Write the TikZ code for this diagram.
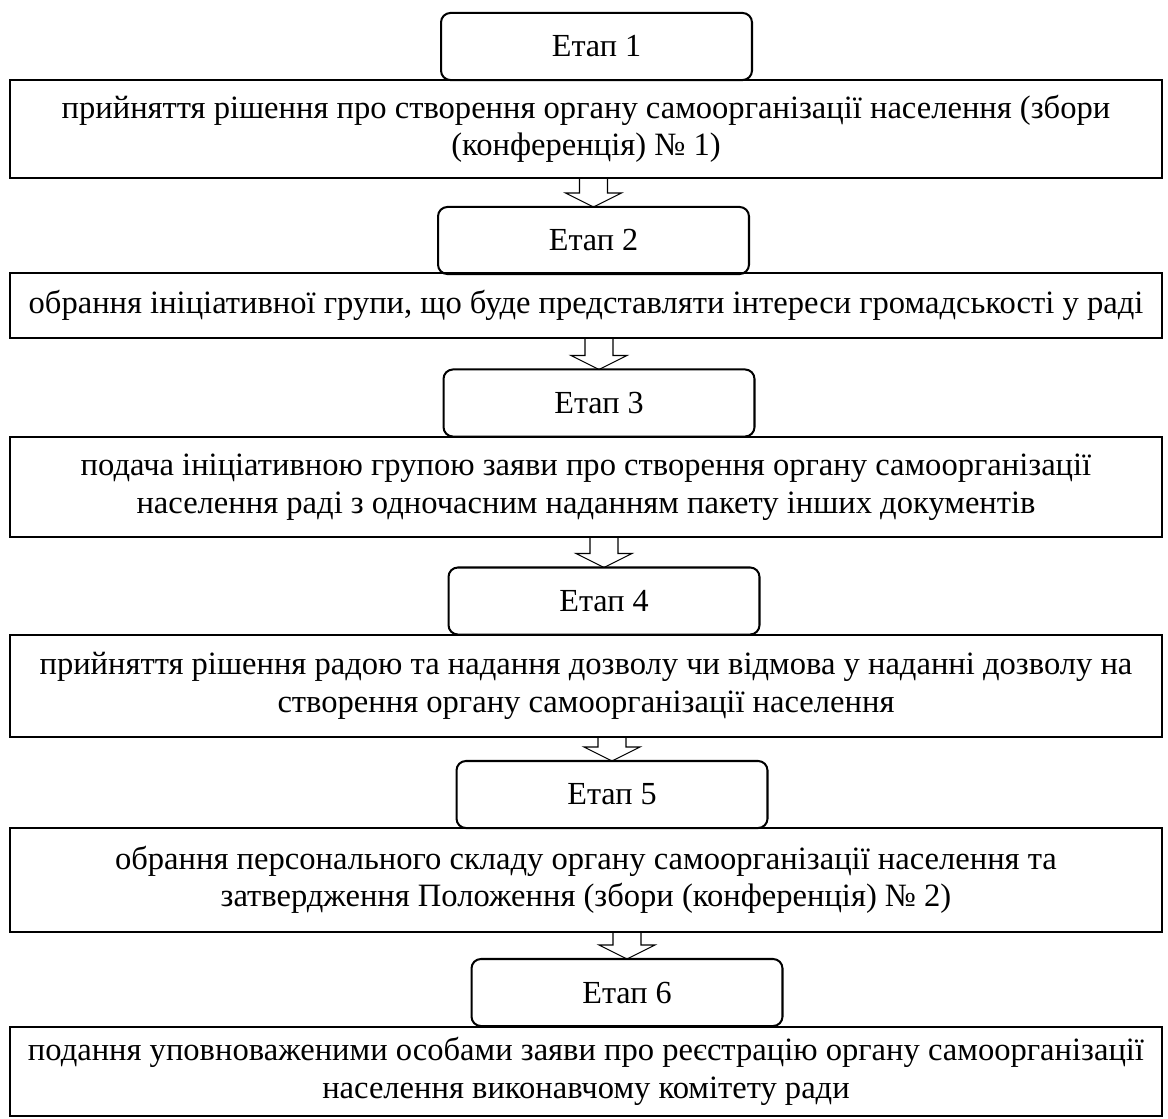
\documentclass[tikz,border=0pt]{standalone}
\usepackage{fontspec}
\setmainfont{Liberation Serif}
\usetikzlibrary{calc}

% hollow block arrow from the bottom of one box down to the top of a stage box
\newcommand{\stagearrow}[2]{%
  \draw[hollow] ($(#1.south -| #2.north)+(-14,0)$) -- ($(#2.north)+(-14,-14)$)
    -- ++(-14,0) -- (#2.north) -- ++(28,-14) -- ++(-14,0)
    -- ($(#1.south -| #2.north)+(14,0)$);}

\begin{document}
\begin{tikzpicture}[
  x=0.373pt, y=-0.373pt,
  every node/.style={inner sep=0pt, outer sep=0pt, font=\fontsize{12}{13.8}\selectfont},
  % the small rounded "stage" boxes and the wide step boxes under them
  stage/.style={draw, line width=0.75pt, rounded corners=3.5pt,
    minimum width=116pt, minimum height=25pt},
  act/.style={draw, line width=0.75pt, align=center, minimum width=429.7pt,
    font=\fontsize{12.15}{14}\selectfont},
  hollow/.style={draw, line width=0.4pt, line join=miter}]

  \useasboundingbox (0,0) rectangle (1168,1119);

  % stages and steps
  \node[stage] (st1) at (596.5, 46.5) {Етап 1};
  \node[act, minimum height=36.6pt] (act1) at (586, 129)
    {прийняття рішення про створення органу самоорганізації населення (збори\\(конференція) № 1)};
  \node[stage] (st2) at (593.5, 240.5) {Етап 2};
  \node[act, minimum height=24.2pt] (act2) at (586, 305.5)
    {обрання ініціативної групи, що буде представляти інтереси громадськості у раді};
  \node[stage] (st3) at (599, 403) {Етап 3};
  \node[act, minimum height=37.3pt] (act3) at (586, 487)
    {подача ініціативною групою заяви про створення органу самоорганізації\\населення раді з одночасним наданням пакету інших документів};
  \node[stage] (st4) at (604, 601) {Етап 4};
  \node[act, minimum height=38pt] (act4) at (586, 686)
    {прийняття рішення радою та надання дозволу чи відмова у наданні дозволу на\\створення органу самоорганізації населення};
  \node[stage] (st5) at (612, 794.5) {Етап 5};
  \node[act, minimum height=38.8pt] (act5) at (586, 880)
    {обрання персонального складу органу самоорганізації населення та\\затвердження Положення (збори (конференція) № 2)};
  \node[stage] (st6) at (627, 992.5) {Етап 6};
  \node[act, minimum height=33.2pt] (act6) at (586, 1071.5)
    {подання уповноваженими особами заяви про реєстрацію органу самоорганізації\\населення виконавчому комітету ради};

  % arrows
  \stagearrow{act1}{st2}
  \stagearrow{act2}{st3}
  \stagearrow{act3}{st4}
  \stagearrow{act4}{st5}
  \stagearrow{act5}{st6}
\end{tikzpicture}
\end{document}
